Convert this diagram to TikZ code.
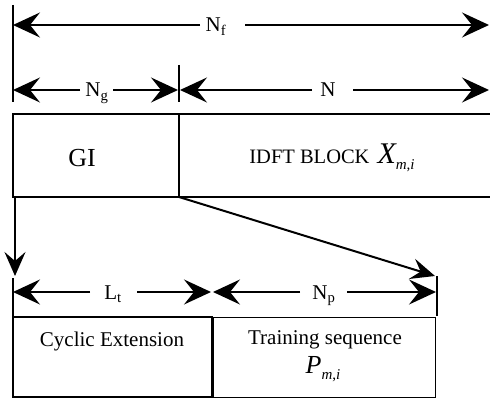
\documentclass[tikz,border=0pt]{standalone}
\usepackage{fontspec}
\setmainfont{Liberation Serif}
\usetikzlibrary{arrows.meta}
\newcommand{\fs}[1]{\fontsize{#1}{#1}\selectfont}
\begin{document}
\begin{tikzpicture}[x=1pt,y=-1pt,
  arr/.style={line width=2pt,-{Stealth[length=27pt,width=25pt,inset=10pt]}},
  arrs/.style={line width=2pt,-{Stealth[length=24pt,width=21pt,inset=9pt]}},
  tick/.style={line width=1.5pt},
  boxline/.style={line width=1.5pt},
  lbl/.style={inner sep=0pt,anchor=base,font=\fs{21}},
  txt/.style={inner sep=0pt,anchor=base}]
\useasboundingbox (0,0) rectangle (490,398);
% ticks
\coordinate (t0a) at (13,5);   \coordinate (t0b) at (13,102);
\coordinate (t1a) at (179,65); \coordinate (t1b) at (179,102);
\draw[tick] (t0a) -- (t0b);
\draw[tick] (t1a) -- (t1b);
% Nf
\node[lbl] (nf) at (216,32) {N\textsubscript{f}};
\coordinate (nfL) at (200,25); \coordinate (nfR) at (245,25);
\coordinate (nfA) at (13,25);  \coordinate (nfB) at (489,25);
\draw[arr] (nfL) -- (nfA);
\draw[arr] (nfR) -- (nfB);
% Ng
\node[lbl] (ng) at (97,97) {N\textsubscript{g}};
\coordinate (ngL) at (80,90); \coordinate (ngR) at (113,90);
\coordinate (ngA) at (13,90); \coordinate (ngB) at (178,90);
\draw[arr] (ngL) -- (ngA);
\draw[arr] (ngR) -- (ngB);
% N
\node[lbl] (nn) at (328,97) {N};
\coordinate (nL) at (312,90); \coordinate (nR) at (353,90);
\coordinate (nA) at (180,90); \coordinate (nB) at (489,90);
\draw[arr] (nL) -- (nA);
\draw[arr] (nR) -- (nB);
% top boxes
\draw[boxline] (490,114) -- (13,114) -- (13,197) -- (490,197);
\draw[boxline] (179,114) -- (179,197);
\coordinate (giBL) at (15,197);
\coordinate (giBR) at (179,197);
\node[txt,font=\fs{26}] (gi) at (82,167) {GI};
\node[txt] (idft) at (332,164) {\fs{20.5}IDFT BLOCK\hspace{8pt}{\fs{30}\itshape X}\raisebox{-6pt}{\fs{15}\itshape m\upshape,\itshape i}};
% connectors down
\coordinate (dn1) at (15,276);
\coordinate (dn2) at (435,276);
\draw[arrs] (giBL) -- (dn1);
\draw[arrs] (giBR) -- (dn2);
% bottom ticks
\coordinate (b0a) at (13,278); \coordinate (b0b) at (13,317);
\coordinate (b1a) at (437,276); \coordinate (b1b) at (437,316);
\draw[tick] (b0a) -- (b0b);
\draw[tick] (b1a) -- (b1b);
% Lt
\node[lbl] (lt) at (113,299) {L\textsubscript{t}};
\coordinate (ltL) at (90,292); \coordinate (ltR) at (137,292);
\coordinate (ltA) at (13,292); \coordinate (ltB) at (211,292);
\draw[arr] (ltL) -- (ltA);
\draw[arr] (ltR) -- (ltB);
% Np
\node[lbl] (np) at (324,299) {N\textsubscript{p}};
\coordinate (npL) at (300,292); \coordinate (npR) at (347,292);
\coordinate (npA) at (213,292); \coordinate (npB) at (436,292);
\draw[arr] (npL) -- (npA);
\draw[arr] (npR) -- (npB);
% bottom boxes
\draw[line width=2pt] (13,317) rectangle (212,397);
\draw[line width=1pt] (213,317) rectangle (435,397);
\node[txt,font=\fs{21}] (ce) at (112,346) {Cyclic Extension};
\node[txt,font=\fs{21}] (ts) at (325,344) {Training sequence};
\node[txt] (pm) at (323,373) {{\fs{26}\itshape P}\raisebox{-6pt}{\fs{15}\itshape m\upshape,\itshape i}};
\end{tikzpicture}
\end{document}
